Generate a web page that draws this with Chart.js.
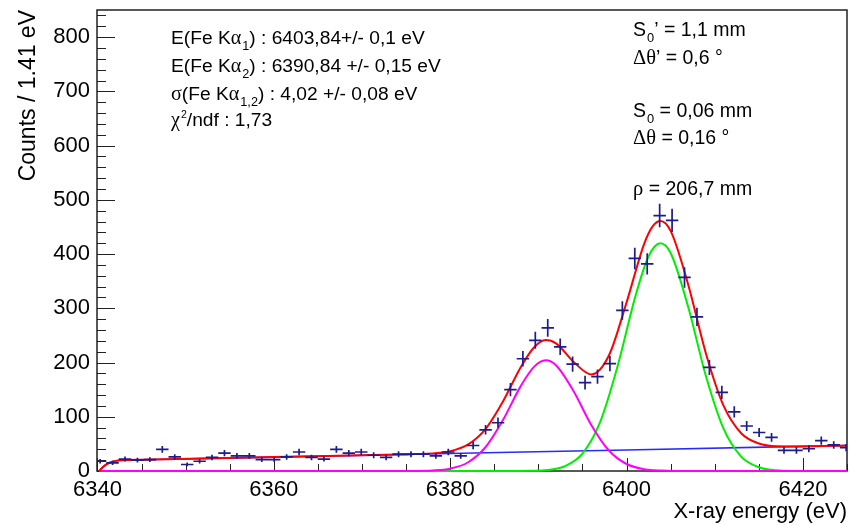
<!DOCTYPE html>
<html>
<head>
<meta charset="utf-8">
<script src="https://cdn.jsdelivr.net/npm/chart.js@4.4.0/dist/chart.umd.min.js"></script>
<style>
  html, body { margin: 0; padding: 0; background: #fff; }
  #wrap { width: 851px; height: 525px; }
</style>
</head>
<body>
<div id="wrap"><canvas id="spectrum"></canvas></div>
<script>
// histogram: 61 bins of 1.41 eV starting at 6339.6 eV
const BIN_START = 6339.6;
const BIN_WIDTH = 1.41;
const COUNTS = [
    18, 15, 22, 20, 21, 40, 26, 12, 18, 25,
    33, 28, 28, 21, 21, 26, 35, 25, 22, 40,
    33, 35, 29, 25, 31, 31, 31, 28, 35, 28,
    47, 76, 89, 150, 207, 241, 264, 229, 197, 163,
    174, 198, 296, 392, 382, 471, 462, 357, 284, 191,
    145, 109, 83, 71, 62, 38, 38, 41, 56, 48, 43
];

// total fit (red)
const FIT_X = [6340.2, 6340.6, 6341.1, 6341.7, 6342.5, 6343, 6345, 6360, 6374, 6378, 6380, 6382, 6384, 6386, 6388,
    6389.5, 6390.84, 6392, 6394, 6396, 6398, 6400, 6402, 6403, 6403.84, 6405, 6407, 6409, 6411, 6413, 6415, 6417, 6420, 6425];
const FIT_Y = [0, 7, 13, 17, 19.6, 20, 20.7, 25.6, 30.2, 32.5, 36.5, 48.6, 77.3, 128.7, 191.5,
    227.8, 241.4, 235.4, 201.2, 178.1, 213, 310.7, 418.9, 451.8, 460.9, 442.7, 343.1, 216.8, 120.4, 69.7, 50.8, 45.8, 45.4, 47.1];

// Fe Ka2 component (magenta)
const KA2_X = [6340.2, 6374, 6376, 6378, 6380, 6382, 6384, 6386, 6388, 6389.5, 6390.84, 6392, 6394, 6396, 6398, 6400, 6402, 6404, 6406, 6408, 6425];
const KA2_Y = [0, 0, 0.1, 0.9, 4.3, 15.7, 43.8, 94.5, 156.5, 192, 204, 195, 147, 85, 37.8, 12.9, 3.4, 0.7, 0.1, 0, 0];

// Fe Ka1 component (green)
const KA1_X = [6340.2, 6387, 6389, 6391, 6393, 6395, 6397, 6399, 6401, 6402.5, 6403.84, 6405, 6407, 6409, 6411, 6413, 6415, 6417, 6419, 6425];
const KA1_Y = [0, 0, 0.3, 1.8, 8.8, 32, 90, 194, 322, 396, 420, 402, 302, 175, 78, 26.6, 7, 1.4, 0.2, 0];

// background (blue)
const BKG_X = [6340.2, 6340.6, 6341.1, 6341.7, 6342.5, 6343, 6345, 6360, 6380, 6400, 6425];
const BKG_Y = [0, 7, 13, 17, 19.6, 20, 20.7, 25.6, 32.2, 38.8, 47.1];

const X_TICKS = [6340, 6360, 6380, 6400, 6420];
const Y_TICKS = [0, 100, 200, 300, 400, 500, 600, 700, 800];

// text boxes: [text, kind] kind: n normal, g greek, sub, sup
const FIT_TEXT = [
    [['E(Fe K', 'n'], ['α', 'g'], ['1', 'sub'], [') : 6403,84+/- 0,1 eV', 'n']],
    [['E(Fe K', 'n'], ['α', 'g'], ['2', 'sub'], [') : 6390,84 +/- 0,15 eV', 'n']],
    [['σ', 'g'], ['(Fe K', 'n'], ['α', 'g'], ['1,2', 'sub'], [') : 4,02 +/- 0,08 eV', 'n']],
    [['χ', 'g'], ['2', 'sup'], ['/ndf : 1,73', 'n']]
];
const GEOM_TEXT = [
    [['S', 'n'], ['0', 'sub'], ['’ = 1,1 mm', 'n']],
    [['Δθ', 'g'], ['’ = 0,6 °', 'n']],
    [['S', 'n'], ['0', 'sub'], [' = 0,06 mm', 'n']],
    [['Δθ', 'g'], [' = 0,16 °', 'n']],
    [['ρ', 'g'], [' = 206,7 mm', 'n']]
];

const SANS = "'Liberation Sans', Arial, sans-serif";
const SERIF = "'Liberation Serif', 'DejaVu Serif', serif";

function binCentre(i) {
    return BIN_START + BIN_WIDTH * (i + 0.5);
}

function toPoints(xs, ys) {
    return xs.map((v, i) => ({ x: v, y: ys[i] }));
}

function drawRich(ctx, x, y, parts, size) {
    parts.forEach(([txt, kind]) => {
        let f = size, dy = 0, fam = SANS;
        if (kind === 'g') { fam = SERIF; f = size * 1.05; }
        if (kind === 'sub') { f = size * 0.66; dy = size * 0.33; x += 1; }
        if (kind === 'sup') { f = size * 0.55; dy = -size * 0.42; x += 1; }
        ctx.font = f + 'px ' + fam;
        ctx.fillText(txt, x, y + dy);
        x += ctx.measureText(txt).width;
    });
}

const rootLook = {
    id: 'rootLook',
    beforeDatasetsDraw(chart) {
        const { ctx, chartArea: a, scales: { x, y } } = chart;
        ctx.save();
        ctx.strokeStyle = '#222';
        ctx.lineWidth = 1;
        ctx.beginPath();
        // y ticks, pointing inward
        for (let v = 0; v <= 850; v += 20) {
            const py = Math.round(y.getPixelForValue(v)) + 0.5;
            const len = v % 100 === 0 ? 18 : 9;
            ctx.moveTo(a.left, py);
            ctx.lineTo(a.left + len, py);
        }
        // x ticks
        for (let v = 6340; v <= 6425; v += 5) {
            const px = Math.round(x.getPixelForValue(v)) + 0.5;
            const len = v % 20 === 0 ? 13 : 7;
            ctx.moveTo(px, a.bottom);
            ctx.lineTo(px, a.bottom - len);
        }
        ctx.stroke();
        ctx.lineWidth = 1.5;
        ctx.strokeRect(a.left, a.top, a.right - a.left, a.bottom - a.top);
        ctx.restore();
    },
    afterDatasetsDraw(chart) {
        const { ctx, chartArea: a, scales: { x, y } } = chart;
        ctx.save();
        ctx.beginPath();
        ctx.rect(a.left, a.top, a.right - a.left, a.bottom - a.top);
        ctx.clip();
        ctx.strokeStyle = '#1c1c8c';
        ctx.lineWidth = 1.7;
        ctx.beginPath();
        COUNTS.forEach((n, i) => {
            const c = binCentre(i);
            const err = Math.sqrt(n);
            const px = x.getPixelForValue(c);
            const py = y.getPixelForValue(n);
            ctx.moveTo(x.getPixelForValue(c - BIN_WIDTH / 2), py);
            ctx.lineTo(x.getPixelForValue(c + BIN_WIDTH / 2), py);
            ctx.moveTo(px, y.getPixelForValue(n + err));
            ctx.lineTo(px, y.getPixelForValue(n - err));
        });
        ctx.stroke();
        ctx.restore();
    },
    afterDraw(chart) {
        const ctx = chart.ctx;
        ctx.save();
        ctx.fillStyle = '#000';
        ctx.textBaseline = 'alphabetic';
        const fitBase = [44, 72, 99.5, 126];
        FIT_TEXT.forEach((line, i) => drawRich(ctx, 171, fitBase[i], line, 19.2));
        const geomBase = [36, 64, 116.5, 144, 195];
        GEOM_TEXT.forEach((line, i) => drawRich(ctx, 633, geomBase[i], line, 19.5));
        ctx.restore();
    }
};

const curveStyle = {
    showLine: true,
    pointRadius: 0,
    borderWidth: 2,
    cubicInterpolationMode: 'monotone',
    clip: 4
};

new Chart(document.getElementById('spectrum'), {
    type: 'scatter',
    data: {
        datasets: [
            {
                label: 'data',
                data: toPoints(COUNTS.map((_, i) => binCentre(i)), COUNTS),
                pointRadius: 0,
                showLine: false
            },
            Object.assign({ label: 'fit', data: toPoints(FIT_X, FIT_Y), borderColor: '#ff0000' }, curveStyle),
            Object.assign({ label: 'Ka2', data: toPoints(KA2_X, KA2_Y), borderColor: '#ff00ff' }, curveStyle),
            Object.assign({ label: 'Ka1', data: toPoints(KA1_X, KA1_Y), borderColor: '#00ee00' }, curveStyle),
            Object.assign({ label: 'bkg', data: toPoints(BKG_X, BKG_Y), borderColor: '#2a2aff', borderWidth: 1.6 }, {
                showLine: true, pointRadius: 0, cubicInterpolationMode: 'monotone', clip: 4
            })
        ]
    },
    options: {
        responsive: true,
        maintainAspectRatio: false,
        animation: false,
        devicePixelRatio: 1,
        layout: { padding: { left: 0, top: 10, right: 4, bottom: 0 } },
        plugins: {
            legend: { display: false },
            tooltip: { enabled: false }
        },
        scales: {
            x: {
                type: 'linear',
                min: 6339.95,
                max: 6425,
                grid: { display: false, drawTicks: false },
                border: { display: false },
                afterBuildTicks: s => { s.ticks = X_TICKS.map(v => ({ value: v })); },
                afterFit: s => { s.height = 54; s.paddingLeft = 0; s.paddingRight = 0; },
                ticks: {
                    color: '#000',
                    padding: 6,
                    maxRotation: 0,
                    autoSkip: false,
                    font: { size: 22, family: SANS },
                    callback: v => String(v)
                },
                title: {
                    display: true,
                    text: 'X-ray energy (eV)',
                    align: 'end',
                    color: '#000',
                    font: { size: 22, family: SANS },
                    padding: { top: 0, bottom: 0 }
                }
            },
            y: {
                min: 0,
                max: 850,
                grid: { display: false, drawTicks: false },
                border: { display: false },
                afterBuildTicks: s => { s.ticks = Y_TICKS.map(v => ({ value: v })); },
                afterFit: s => { s.width = 97; s.paddingTop = 0; s.paddingBottom = 0; },
                ticks: {
                    color: '#000',
                    padding: 7,
                    font: { size: 22, family: SANS }
                },
                title: {
                    display: true,
                    text: 'Counts / 1.41 eV',
                    align: 'end',
                    color: '#000',
                    font: { size: 23, family: SANS },
                    padding: { top: 15, bottom: 0 }
                }
            }
        }
    },
    plugins: [rootLook]
});
</script>
</body>
</html>
